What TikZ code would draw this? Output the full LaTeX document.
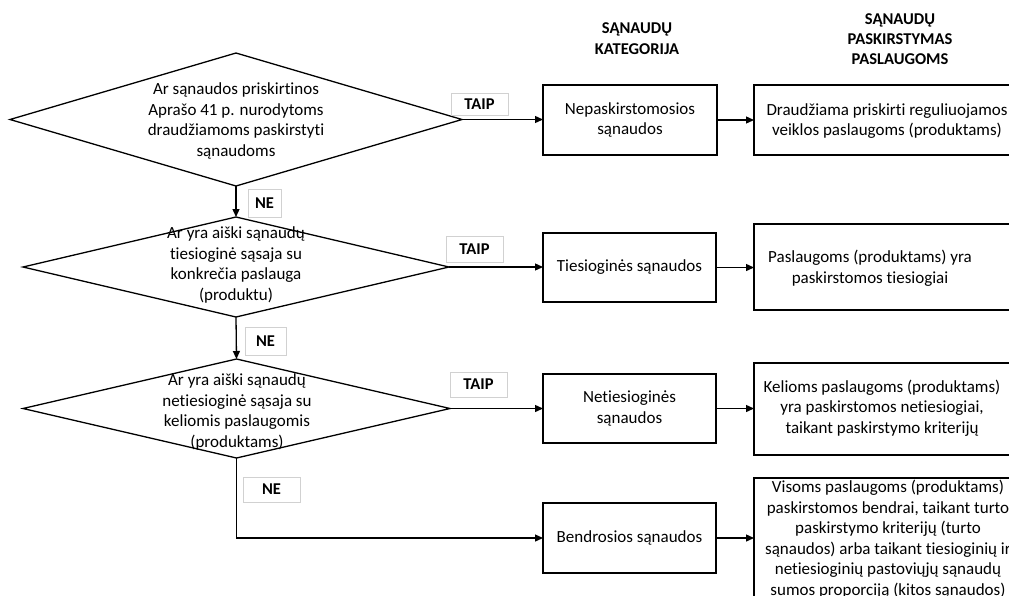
\documentclass[tikz,border=0pt]{standalone}
\usepackage{fontspec}
\setmainfont{Carlito}[Ligatures=NoCommon]
\usetikzlibrary{shapes.geometric,arrows.meta}
\begin{document}
\begin{tikzpicture}[x=1pt,y=-1pt,
  every node/.style={inner sep=0pt, outer sep=0pt},
  txt/.style={font=\fontsize{17}{20.5}\selectfont, align=center},
  hdr/.style={font=\fontsize{16.5}{20.3}\selectfont\bfseries, align=center},
  lbl/.style={draw=black!18, fill=white, line width=0.8pt, font=\fontsize{16.5}{18}\selectfont\bfseries},
  dec/.style={diamond, draw, line width=1.3pt},
  box/.style={draw, line width=1.3pt, rectangle},
  arr/.style={line width=1.3pt, -{Triangle[length=8pt,width=7pt]}}
]
\useasboundingbox (0,0) rectangle (1009,595);
\clip (0,0) rectangle (1009,595);

% headers
\node[hdr] (h1) at (637,38.5) {SĄNAUDŲ\\KATEGORIJA};
\node[hdr] (h2) at (900,39) {SĄNAUDŲ\\PASKIRSTYMAS\\PASLAUGOMS};

% decisions
\node[dec, minimum width=452pt, minimum height=133pt] (d1) at (236,119.5) {};
\node[txt] (t1) at (236,121) {Ar sąnaudos priskirtinos\\Aprašo 41 p. nurodytoms\\draudžiamoms paskirstyti\\sąnaudoms};
\node[dec, minimum width=426pt, minimum height=100pt] (d2) at (236,267) {};
\node[txt] (t2) at (236,265) {Ar yra aiški sąnaudų\\tiesioginė sąsaja su\\konkrečia paslauga\\(produktu)};
\node[dec, minimum width=427pt, minimum height=99pt] (d3) at (236.5,408.5) {};
\node[txt] (t3) at (237,412) {Ar yra aiški sąnaudų\\netiesioginė sąsaja su\\keliomis paslaugomis\\(produktams)};

% category boxes
\node[box, txt, minimum width=174pt, minimum height=70pt] (b1) at (630,120) {Nepaskirstomosios\\sąnaudos};
\node[box, txt, minimum width=173pt, minimum height=69pt] (b2) at (629.5,267.5) {Tiesioginės sąnaudos};
\node[box, txt, minimum width=173pt, minimum height=69pt] (b3) at (629.5,408.5) {Netiesioginės\\sąnaudos};
\node[box, txt, minimum width=173pt, minimum height=70pt] (b4) at (629.5,538) {Bendrosios sąnaudos};

% allocation boxes
\node[box, minimum width=261pt, minimum height=70pt] (r1) at (884.5,120) {};
\node[box, minimum width=261pt, minimum height=86pt] (r2) at (884.5,267) {};
\node[box, minimum width=261pt, minimum height=92pt] (r3) at (884.5,409) {};
\node[box, minimum width=261pt, minimum height=142pt] (r4) at (884.5,549) {};
\node[txt] (rt1) at (887,121) {Draudžiama priskirti reguliuojamos\\veiklos paslaugoms (produktams)};
\node[txt] (rt2) at (870,268) {Paslaugoms (produktams) yra\\paskirstomos tiesiogiai};
\node[txt] (rt3) at (882,408) {Kelioms paslaugoms (produktams)\\yra paskirstomos netiesiogiai,\\taikant paskirstymo kriterijų};
\node[txt] (rt4) at (888,539) {Visoms paslaugoms (produktams)\\paskirstomos bendrai, taikant turto\\paskirstymo kriterijų (turto\\sąnaudos) arba taikant tiesioginių ir\\netiesioginių pastoviųjų sąnaudų\\sumos proporciją (kitos sąnaudos)};

% connectors
\draw[arr] (d1.east) -- (d1.east -| b1.west);
\draw[arr] (b1.east) -- (b1.east -| r1.west);
\draw[arr] (d2.east) -- (d2.east -| b2.west);
\draw[arr] (b2.east) -- (b2.east -| r2.west);
\draw[arr] (d3.east) -- (d3.east -| b3.west);
\draw[arr] (b3.east) -- (b3.east -| r3.west);
\draw[arr] (b4.east) -- (b4.east -| r4.west);
\draw[arr] (d1.south) -- (d2.north);
\draw[arr] (d2.south) -- (d3.north);
\draw[arr] (d3.south) |- (b4.west);

% labels
\node[lbl, minimum width=57pt, minimum height=22pt] (y1) at (479.5,104) {TAIP};
\node[lbl, minimum width=57pt, minimum height=26pt] (y2) at (474.5,249) {TAIP};
\node[lbl, minimum width=57pt, minimum height=25pt] (y3) at (478.5,384.5) {TAIP};
\node[lbl, minimum width=33pt, minimum height=28pt] (n1) at (264.5,203) {NE};
\node[lbl, minimum width=41pt, minimum height=28pt] (n2) at (265.5,341) {NE};
\node[lbl, minimum width=57pt, minimum height=25pt] (n3) at (271.5,489.5) {NE};
\end{tikzpicture}
\end{document}
